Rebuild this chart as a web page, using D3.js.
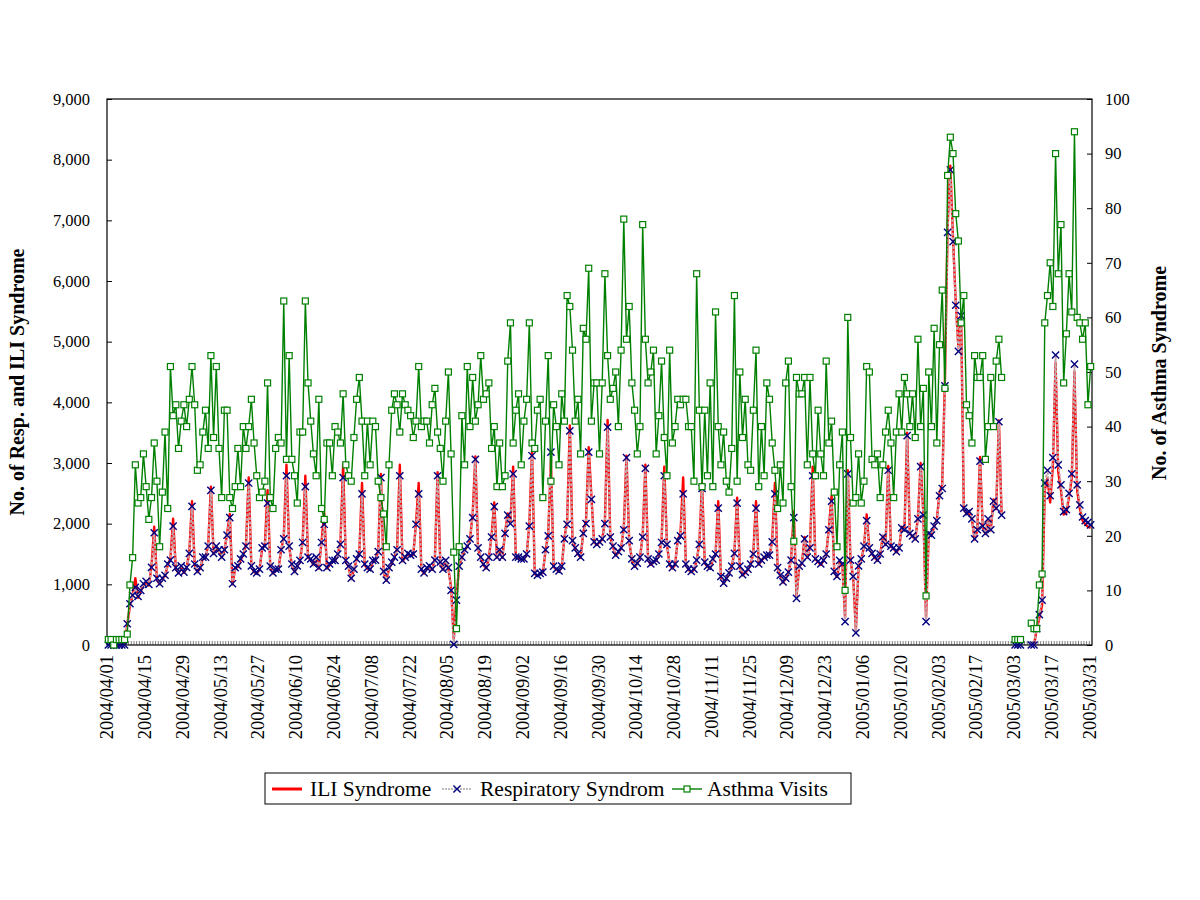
<!DOCTYPE html>
<html><head><meta charset="utf-8">
<script src="https://cdn.jsdelivr.net/npm/d3@7"></script>
<style>
body{margin:0;background:#fff;}
svg{display:block;}
text{font-family:"Liberation Serif","Times New Roman",serif;fill:#000;}
</style>
</head><body>
<svg id="chart" width="1200" height="900"></svg>
<script>
// ---------------- DATA ----------------
const firstDay = "2004-04-01";
const lastDayExclusive = "2005-04-01";
const tickLabels = ["2004/04/01","2004/04/15","2004/04/29","2004/05/13","2004/05/27","2004/06/10","2004/06/24",
  "2004/07/08","2004/07/22","2004/08/05","2004/08/19","2004/09/02","2004/09/16","2004/09/30","2004/10/14",
  "2004/10/28","2004/11/11","2004/11/25","2004/12/09","2004/12/23","2005/01/06","2005/01/20","2005/02/03",
  "2005/02/17","2005/03/03","2005/03/17","2005/03/31"];
const leftTicks = [0,1000,2000,3000,4000,5000,6000,7000,8000,9000];
const rightTicks = [0,10,20,30,40,50,60,70,80,90,100];
const seriesNames = ["ILI Syndrome","Respiratory Syndrom","Asthma Visits"];

// ILI Syndrome (left axis), one value per day, one row per week
const iliValues = [
0,0,0,0,0,0,0,
330,650,820,1100,780,880,990,
1030,980,1300,1950,1080,1000,1090,
1140,1320,1420,2080,1260,1180,1290,
1190,1270,1530,2370,1320,1200,1260,
1430,1440,1650,2610,1500,1610,1560,
1440,1560,1830,2160,1000,1260,1290,
1400,1490,1650,2760,1290,1200,1180,
1240,1590,1650,2550,1290,1180,1240,
1240,1560,1770,2970,1620,1320,1200,
1290,1380,1710,2790,1440,1410,1320,
1440,1260,1710,2170,1260,1320,1380,
1380,1490,1680,2970,1380,1290,1090,
1240,1410,1520,2670,1320,1260,1240,
1380,1390,1560,2820,1200,1060,1260,
1350,1440,1590,2970,1380,1440,1500,
1470,1490,2010,2670,1240,1180,1260,
1290,1240,1420,2850,1350,1240,1380,
1260,950,100,800,1290,1440,1560,
1620,1740,2150,3110,1590,1440,1320,
1260,1440,1800,2350,1440,1560,1440,
1850,2170,2030,2940,1440,1440,1410,
1410,1490,1990,3200,1170,1140,1170,
1190,1560,1830,3050,1290,1240,1210,
1290,1770,2020,3620,1710,1590,1500,
1440,1860,2050,3260,2450,1690,1650,
1690,1740,2040,3710,1770,1620,1470,
1530,1590,1930,3120,1710,1410,1290,
1340,1440,1800,2970,1410,1320,1370,
1390,1490,1710,2940,1650,1320,1260,
1320,1740,1830,2760,1320,1240,1200,
1240,1390,1680,2670,1350,1290,1260,
1410,1490,2370,1120,1010,1090,1180,
1290,1530,2430,1290,1150,1190,1240,
1320,1520,2370,1320,1390,1440,1470,
1470,1720,2670,1260,1140,1030,1090,
1190,1420,2200,800,1290,1340,1780,
1440,1620,2940,1410,1370,1320,1390,
1490,1930,2460,1200,1120,1380,1320,
450,2880,1390,1120,250,1290,1410,
1620,2150,1590,1500,1440,1390,1490,
1800,1650,2950,1620,1590,1530,1590,
1950,1890,3500,1830,1790,1740,2100,
3000,2170,450,1830,1800,1950,2070,
2500,2650,4360,6900,7900,6700,5650,
4900,5460,2240,2160,2190,2070,1740,
1890,3100,1950,1830,2070,1890,2400,
2240,3700,2150,null,null,null,null,
0,0,0,null,null,null,0,
0,250,450,650,2550,2750,2350,
2950,4650,2850,2550,2150,2180,2450,
2750,4500,2550,2250,2050,1990,1950,
1930];

// Respiratory Syndrome (left axis)
const respValues = [
0,0,0,0,0,0,0,
350,680,820,950,800,900,1010,
1050,1000,1280,1850,1100,1010,1100,
1150,1335,1400,1960,1275,1190,1305,
1200,1280,1510,2285,1335,1215,1275,
1450,1450,1630,2550,1510,1630,1570,
1450,1570,1810,2100,1010,1275,1305,
1420,1500,1630,2670,1305,1215,1190,
1250,1600,1630,2340,1300,1190,1250,
1250,1570,1750,2790,1630,1335,1215,
1305,1395,1690,2610,1450,1420,1335,
1450,1275,1690,1990,1275,1335,1395,
1395,1500,1660,2760,1395,1300,1100,
1250,1420,1500,2490,1335,1275,1250,
1395,1400,1540,2760,1215,1070,1275,
1365,1450,1570,2790,1395,1450,1510,
1480,1500,1990,2490,1250,1190,1275,
1305,1250,1400,2790,1365,1250,1395,
1275,900,10,740,1300,1450,1570,
1630,1750,2100,3060,1600,1450,1335,
1275,1450,1780,2280,1450,1570,1450,
1840,2140,2000,2820,1450,1450,1420,
1420,1500,1960,3120,1180,1150,1180,
1200,1570,1800,3180,1300,1250,1220,
1300,1750,1990,3530,1720,1600,1510,
1450,1840,2000,3180,2400,1700,1660,
1700,1750,2000,3590,1780,1630,1480,
1540,1600,1900,3090,1720,1420,1300,
1350,1450,1780,2910,1420,1335,1380,
1400,1500,1690,2790,1660,1335,1275,
1335,1720,1800,2490,1335,1250,1215,
1250,1400,1660,2580,1365,1300,1275,
1420,1500,2255,1130,1020,1100,1190,
1300,1510,2340,1300,1160,1200,1250,
1335,1500,2255,1335,1400,1450,1480,
1480,1700,2490,1275,1150,1040,1100,
1200,1400,2100,770,1300,1350,1750,
1450,1600,2790,1420,1380,1335,1400,
1500,1900,2370,1215,1130,1395,1335,
385,2820,1400,1130,200,1305,1420,
1630,2050,1600,1510,1450,1400,1500,
1780,1660,2880,1630,1600,1540,1600,
1930,1900,3450,1840,1800,1750,2080,
2940,2140,385,1840,1810,1960,2050,
2460,2580,4270,6800,7830,6650,5600,
4840,5430,2255,2170,2200,2080,1750,
1900,3030,1960,1840,2080,1900,2370,
2255,3680,2140,null,null,null,null,
0,0,0,null,null,null,0,
0,270,500,740,2670,2880,2460,
3090,4780,2970,2640,2200,2230,2500,
2820,4630,2640,2310,2110,2050,2020,
1980];

// Asthma Visits (right axis)
const asthmaValues = [
1,1,0,1,1,1,1,
2,11,16,33,26,27,35,
29,23,27,37,30,18,28,
39,25,51,42,44,36,41,
44,40,45,51,44,32,33,
39,43,36,53,38,51,36,
27,43,43,27,25,29,36,
29,40,36,40,45,37,31,
27,28,30,48,27,25,36,
38,37,63,34,53,34,31,
26,39,39,63,48,41,35,
31,45,25,23,37,37,31,
40,39,37,46,33,31,30,
38,45,49,41,31,41,33,
41,40,30,27,24,18,33,
43,46,44,39,46,44,43,
42,38,41,51,40,41,41,
37,44,47,39,36,30,41,
50,35,17,3,18,42,33,
51,40,49,41,44,53,45,
46,48,36,40,29,37,29,
31,52,59,37,43,46,33,
41,45,59,37,36,43,45,
27,41,53,30,44,40,33,
46,41,64,62,54,41,45,
35,58,56,69,41,48,48,
35,48,68,53,45,47,50,
40,54,78,56,62,48,43,
35,40,77,56,48,50,54,
35,42,52,38,31,54,37,
40,45,44,45,45,40,40,
30,68,43,29,43,31,48,
29,61,40,33,39,30,28,
36,64,30,50,38,45,33,
32,43,54,29,40,31,48,
45,37,32,25,33,26,48,
52,29,19,49,46,46,49,
33,49,35,31,43,35,31,
52,37,41,28,18,33,39,
10,60,38,26,27,35,26,
30,51,50,34,33,35,27,
33,39,43,37,27,39,46,
39,49,46,40,46,38,56,
40,47,9,50,40,58,37,
55,65,47,86,93,90,79,
74,59,64,44,42,37,53,
49,49,53,34,40,49,40,
52,56,49,null,null,null,null,
1,1,1,null,null,null,4,
3,3,11,13,59,64,70,
62,90,68,77,48,57,68,
61,94,60,59,56,59,44,
51];

// ---------------- CHART ----------------
const svg = d3.select("#chart");
const W = 1200, H = 900;
const plot = {left:107, right:1092, top:99, bottom:645};

const parse = d3.timeParse("%Y-%m-%d");
const fmt = d3.timeFormat("%Y/%m/%d");
const categories = d3.timeDay.range(parse(firstDay), parse(lastDayExclusive)).map(fmt);

const x = d3.scaleBand().domain(categories).range([plot.left, plot.right]).paddingInner(0).paddingOuter(0);
const cx = i => x(categories[i]) + x.bandwidth()/2;
const yL = d3.scaleLinear().domain([0,9000]).range([plot.bottom, plot.top]);
const yR = d3.scaleLinear().domain([0,100]).range([plot.bottom, plot.top]);

svg.append("rect").attr("width",W).attr("height",H).attr("fill","#fff");

// category tick marks (hatch row along bottom)
svg.append("g").selectAll("line").data(categories).join("line")
  .attr("x1", d => x(d)).attr("x2", d => x(d))
  .attr("y1", plot.bottom - 4).attr("y2", plot.bottom)
  .attr("stroke", "#808080").attr("stroke-width", 1);

// left axis
const gL = svg.append("g").attr("transform",`translate(${plot.left},0)`)
  .call(d3.axisLeft(yL).tickValues(leftTicks).tickFormat(d3.format(",")).tickSize(-5).tickPadding(17));
gL.select(".domain").remove();
gL.selectAll("line").attr("stroke","#000");
gL.selectAll("text").attr("font-size",16.5).attr("font-family","Liberation Serif");

// right axis
const gR = svg.append("g").attr("transform",`translate(${plot.right},0)`)
  .call(d3.axisRight(yR).tickValues(rightTicks).tickSize(-5).tickPadding(13));
gR.select(".domain").remove();
gR.selectAll("line").attr("stroke","#000");
gR.selectAll("text").attr("font-size",16.5).attr("font-family","Liberation Serif");

// x labels
const labelIdx = categories.map((c,i)=>i).filter(i => tickLabels.includes(categories[i]));
svg.append("g").selectAll("text").data(labelIdx).join("text")
  .attr("transform", i => `translate(${cx(i)+5},655) rotate(-90)`)
  .attr("text-anchor","end")
  .attr("font-size",18.5)
  .text(i => categories[i]);

// plot frame
svg.append("rect").attr("x",plot.left).attr("y",plot.top)
  .attr("width",plot.right-plot.left).attr("height",plot.bottom-plot.top)
  .attr("fill","none").attr("stroke","#000").attr("stroke-width",1.2);

// lines
const lineL = d3.line().defined(d => d != null).x((d,i)=>cx(i)).y(d=>yL(d));
const lineR = d3.line().defined(d => d != null).x((d,i)=>cx(i)).y(d=>yR(d));

svg.append("path").datum(iliValues).attr("d", lineL)
  .attr("fill","none").attr("stroke","#ff0000").attr("stroke-width",2.4).attr("stroke-linejoin","round");
svg.append("path").datum(respValues).attr("d", lineL)
  .attr("fill","none").attr("stroke","#c4a4ac").attr("stroke-width",2).attr("stroke-dasharray","3,1.5");

// resp x markers
const xs = 3.6;
const respPts = respValues.map((v,i)=>({v,i})).filter(d=>d.v!=null);
svg.append("g").selectAll("path").data(respPts).join("path")
  .attr("d", d => { const px=cx(d.i), py=yL(d.v); return `M${px-xs},${py-xs}L${px+xs},${py+xs}M${px-xs},${py+xs}L${px+xs},${py-xs}`; })
  .attr("stroke","#000080").attr("stroke-width",1.4).attr("fill","none");

// asthma line + squares
svg.append("path").datum(asthmaValues).attr("d", lineR)
  .attr("fill","none").attr("stroke","#008000").attr("stroke-width",1.4);
const sq = 3;
const asthPts = asthmaValues.map((v,i)=>({v,i})).filter(d=>d.v!=null);
svg.append("g").selectAll("rect").data(asthPts).join("rect")
  .attr("x", d => cx(d.i)-sq).attr("y", d => yR(d.v)-sq)
  .attr("width", sq*2).attr("height", sq*2)
  .attr("fill","#fff").attr("stroke","#008000").attr("stroke-width",1.2);

// axis titles
svg.append("text").attr("transform","translate(24,382) rotate(-90)")
  .attr("text-anchor","middle").attr("font-size",20).attr("font-weight","bold")
  .text("No. of Resp. and ILI Syndrome");
svg.append("text").attr("transform","translate(1166,373) rotate(-90)")
  .attr("text-anchor","middle").attr("font-size",20).attr("font-weight","bold")
  .text("No. of Asthma Syndrome");

// legend
const lg = svg.append("g");
lg.append("rect").attr("x",265).attr("y",773).attr("width",586).attr("height",31)
  .attr("fill","#fff").attr("stroke","#000").attr("stroke-width",1);
// ILI
lg.append("line").attr("x1",272).attr("x2",302).attr("y1",789).attr("y2",789)
  .attr("stroke","#ff0000").attr("stroke-width",3);
lg.append("text").attr("x",310).attr("y",796).attr("font-size",21.5).text(seriesNames[0]);
// Resp
lg.append("line").attr("x1",442).attr("x2",472).attr("y1",789).attr("y2",789)
  .attr("stroke","#a8a8a8").attr("stroke-width",1.3).attr("stroke-dasharray","2,1");
lg.append("path").attr("d",`M${457-xs},${789-xs}L${457+xs},${789+xs}M${457-xs},${789+xs}L${457+xs},${789-xs}`)
  .attr("stroke","#000080").attr("stroke-width",1.4);
lg.append("text").attr("x",480).attr("y",796).attr("font-size",21.5).text(seriesNames[1]);
// Asthma
lg.append("line").attr("x1",672).attr("x2",702).attr("y1",789).attr("y2",789)
  .attr("stroke","#008000").attr("stroke-width",1.4);
lg.append("rect").attr("x",687-sq).attr("y",789-sq).attr("width",sq*2).attr("height",sq*2)
  .attr("fill","#fff").attr("stroke","#008000").attr("stroke-width",1.2);
lg.append("text").attr("x",707).attr("y",796).attr("font-size",21.5).text(seriesNames[2]);
</script>
</body></html>
